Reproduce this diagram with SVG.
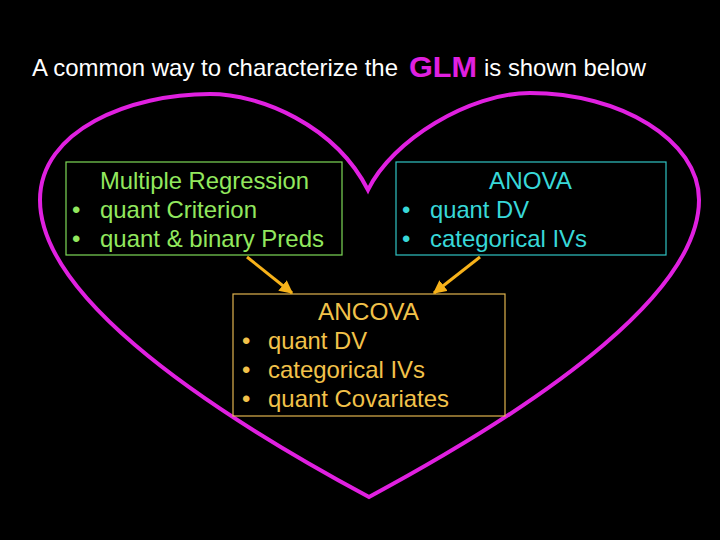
<svg xmlns="http://www.w3.org/2000/svg" width="720" height="540" viewBox="0 0 720 540">
<defs>
<style>
text { font-family: "Liberation Sans", Arial, sans-serif; }
.title { fill: #ffffff; font-size: 24px; }
.glm { fill: #e020e0; font-size: 30px; font-weight: bold; }
.t { font-size: 24px; }
.g { fill: #92e85e; }
.c { fill: #38d8d8; }
.o { fill: #f2c24a; }
.box { fill: none; stroke-width: 1.2; }
.arrow { stroke: #f7b21a; stroke-width: 3; fill: none; }
</style>
<marker id="ah" viewBox="0 0 10 10" refX="9" refY="5" markerWidth="4.5" markerHeight="4.5" markerUnits="strokeWidth" orient="auto">
<path d="M0,0 L10,5 L0,10 z" fill="#f7b21a"/>
</marker>
</defs>
<rect x="0" y="0" width="720" height="540" fill="#000000"/>
<g id="title">
<text class="title" x="32" y="76" textLength="366" lengthAdjust="spacingAndGlyphs">A common way to characterize the</text>
<text class="glm" x="409" y="77" textLength="68" lengthAdjust="spacingAndGlyphs">GLM</text>
<text class="title" x="484" y="76" textLength="162" lengthAdjust="spacingAndGlyphs">is shown below</text>
</g>
<g id="heart">
<path d="M369,497 C183,397 40,290 40,200 C40,130 130,94 210,94 C260,94 335,125 368,190 C392,140 470,93 530,93 C620,93 699,140 699,200 C699,290 555,397 369,497 Z" fill="none" stroke="#e020e0" stroke-width="4" stroke-linejoin="miter"/>
</g>
<g id="multiple-regression">
<rect class="box" x="66" y="162" width="276" height="93" stroke="#7ed957"/>
<text class="t g" x="100" y="189" textLength="209" lengthAdjust="spacingAndGlyphs">Multiple Regression</text>
<text class="t g" x="72" y="218">•</text>
<text class="t g" x="100" y="218" textLength="157" lengthAdjust="spacingAndGlyphs">quant Criterion</text>
<text class="t g" x="72" y="247">•</text>
<text class="t g" x="100" y="247" textLength="224" lengthAdjust="spacingAndGlyphs">quant &amp; binary Preds</text>
</g>
<g id="anova">
<rect class="box" x="396" y="162" width="270" height="93" stroke="#30c4c4"/>
<text class="t c" x="489" y="189" textLength="83" lengthAdjust="spacingAndGlyphs">ANOVA</text>
<text class="t c" x="402" y="218">•</text>
<text class="t c" x="430" y="218" textLength="99" lengthAdjust="spacingAndGlyphs">quant DV</text>
<text class="t c" x="402" y="247">•</text>
<text class="t c" x="430" y="247" textLength="157" lengthAdjust="spacingAndGlyphs">categorical IVs</text>
</g>
<g id="ancova">
<rect class="box" x="233" y="294" width="272" height="122" stroke="#e0b34e"/>
<text class="t o" x="318" y="320" textLength="101" lengthAdjust="spacingAndGlyphs">ANCOVA</text>
<text class="t o" x="242" y="349">•</text>
<text class="t o" x="268" y="349" textLength="99" lengthAdjust="spacingAndGlyphs">quant DV</text>
<text class="t o" x="242" y="378">•</text>
<text class="t o" x="268" y="378" textLength="157" lengthAdjust="spacingAndGlyphs">categorical IVs</text>
<text class="t o" x="242" y="407">•</text>
<text class="t o" x="268" y="407" textLength="181" lengthAdjust="spacingAndGlyphs">quant Covariates</text>
</g>
<g id="connectors">
<line class="arrow" x1="247" y1="257" x2="292" y2="293" marker-end="url(#ah)"/>
<line class="arrow" x1="480" y1="257" x2="434" y2="293" marker-end="url(#ah)"/>
</g>
</svg>
